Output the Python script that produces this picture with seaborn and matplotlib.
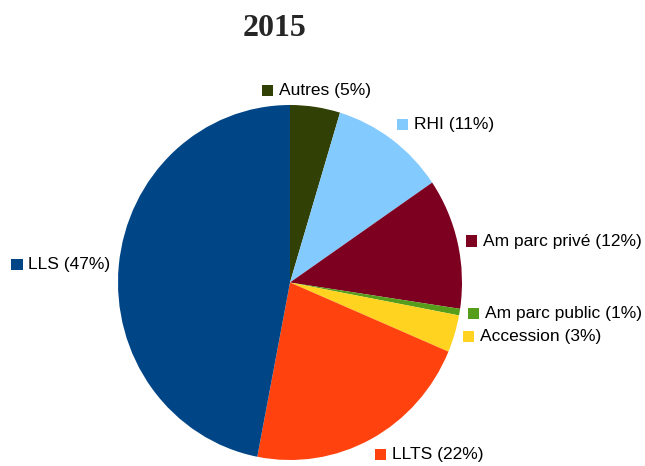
import numpy as np
import matplotlib
matplotlib.use("Agg")
import matplotlib.pyplot as plt
import seaborn as sns
from matplotlib.offsetbox import AnnotationBbox, HPacker, DrawingArea, TextArea
from matplotlib.patches import Rectangle

# données (parts en %)
categories = ["Autres", "RHI", "Am parc privé", "Am parc public", "Accession", "LLTS", "LLS"]
values = [4.7, 10.8, 11.9, 0.6, 3.4, 21.7, 47.0]
colors = ["#314004", "#83caff", "#7e0021", "#579d1c", "#ffd320", "#ff420e", "#004586"]
title = "2015"

sns.set_theme(style="white")
plt.rcParams['font.family'] = ['Liberation Sans', 'DejaVu Sans']

fig = plt.figure(figsize=(6.45, 4.66), dpi=100)
ax = fig.add_axes([118 / 645, 6 / 466, 344 / 645, 355 / 466])
wedges, _ = ax.pie(values, colors=colors, startangle=90, counterclock=False,
                   radius=1, wedgeprops=dict(linewidth=0))
ax.set_aspect('auto')
ax.set_xlim(-1, 1)
ax.set_ylim(-1, 1)
ax.axis('off')

total = sum(values)
for w, cat, v, c in zip(wedges, categories, values, colors):
    ang = np.deg2rad((w.theta1 + w.theta2) / 2)
    cx, sy = np.cos(ang), np.sin(ang)
    r = 1.05
    # alignement de l'étiquette selon sa position autour du camembert
    if abs(cx) < 0.3:
        bx = 0.5
    else:
        bx = 0.0 if cx > 0 else 1.0
    if sy > 0.7:
        by = 0.0
    elif sy < -0.7:
        by = 1.0
    else:
        by = 0.5
    da = DrawingArea(8, 8, 0, 0)
    da.add_artist(Rectangle((0, 0), 8, 8, facecolor=c, edgecolor='none'))
    ta = TextArea(f"{cat} ({round(v / total * 100):.0f}%)",
                  textprops=dict(fontsize=12.5, color='black'))
    box = HPacker(children=[da, ta], align="center", pad=0, sep=4)
    ab = AnnotationBbox(box, (r * cx, r * sy), xycoords='data',
                        box_alignment=(bx, by), frameon=False, pad=0,
                        annotation_clip=False)
    ax.add_artist(ab)

fig.text(274 / 645, 1 - 28 / 466, title, ha='center', va='center',
         fontsize=23, fontweight='bold', family=['Liberation Serif', 'DejaVu Serif'])

fig.savefig("out.png", dpi=100)
